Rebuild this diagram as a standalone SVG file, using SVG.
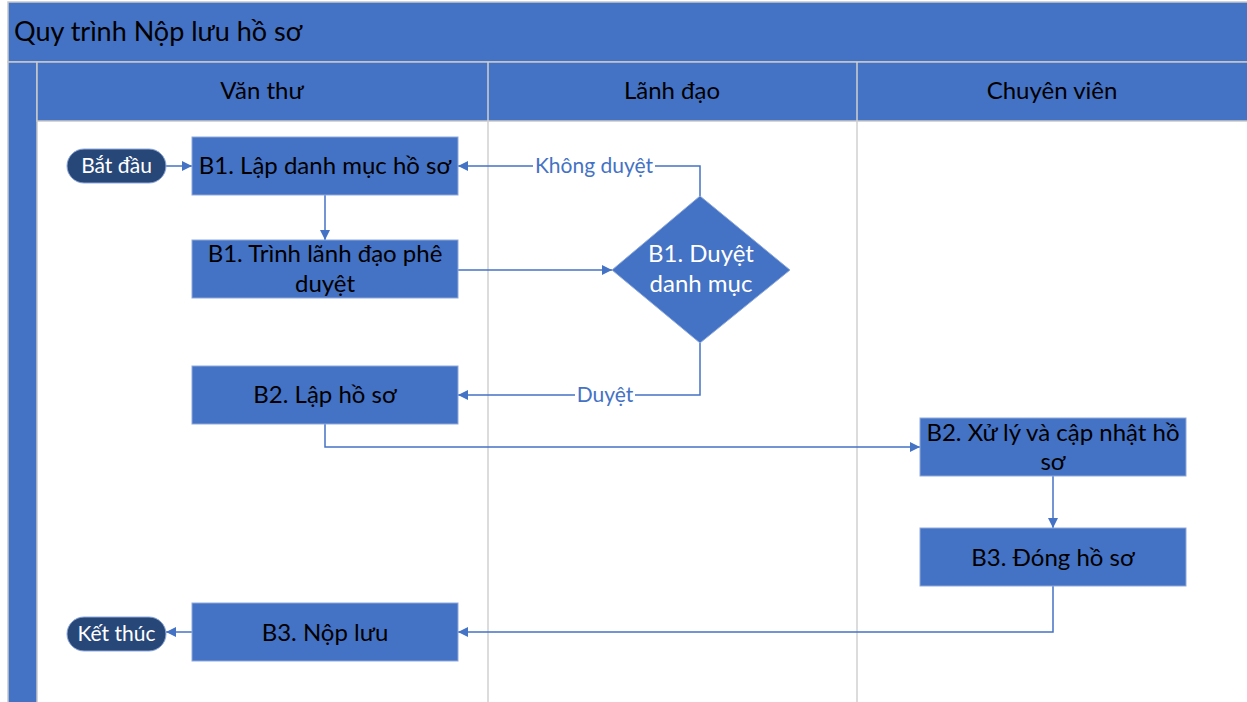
<svg xmlns="http://www.w3.org/2000/svg" width="1247" height="702" viewBox="0 0 1247 702">
<style>
.band{fill:#4472C4;stroke:#C9C9C9;stroke-width:1.5}
.lane{stroke:#D0D0D0;stroke-width:1.5}
.box{fill:#4472C4;stroke:#8EA9DB;stroke-width:1}
.term{fill:#284779;stroke:#8EA9DB;stroke-width:1}
.t{font-family:Lato,"Open Sans",sans-serif;text-anchor:middle}
.tb{fill:#000;font-size:24px}
.tw{fill:#fff;font-size:24px}
.ts{fill:#fff;font-size:21px}
.hd{fill:#000;font-size:24px}
.lbl{fill:#4472C4;font-size:21px;font-family:Lato,"Open Sans",sans-serif;text-anchor:middle}
.c{fill:none;stroke:#4472C4;stroke-width:1.5}
</style>
<defs>
<marker id="ah" viewBox="0 0 10 10" refX="10" refY="5" markerWidth="10" markerHeight="10" markerUnits="userSpaceOnUse" orient="auto">
<path d="M0,0 L10,5 L0,10 z" fill="#4472C4"/>
</marker>
</defs>
<rect x="0" y="0" width="1247" height="702" fill="#fff"/>
<g id="pool">
<rect class="band" x="8" y="2" width="1245" height="60"/>
<text x="14" y="41" font-family="Lato,'Open Sans',sans-serif" font-size="27" fill="#000">Quy trình Nộp lưu hồ sơ</text>
<rect class="band" x="8" y="62" width="29" height="645"/>
<rect class="band" x="37" y="62" width="1215" height="59"/>
<line class="lane" x1="488" y1="62" x2="488" y2="702"/>
<line class="lane" x1="857" y1="62" x2="857" y2="702"/>
<text class="t hd" x="262" y="99">Văn thư</text>
<text class="t hd" x="672" y="99">Lãnh đạo</text>
<text class="t hd" x="1052" y="99">Chuyên viên</text>
</g>
<g id="connectors">
<line class="c" x1="166" y1="166" x2="192" y2="166" marker-end="url(#ah)"/>
<line class="c" x1="325" y1="195" x2="325" y2="240" marker-end="url(#ah)"/>
<line class="c" x1="458" y1="270" x2="612" y2="270" marker-end="url(#ah)"/>
<polyline class="c" points="700,196 700,166 458,166" marker-end="url(#ah)"/>
<polyline class="c" points="700,343 700,395 458,395" marker-end="url(#ah)"/>
<polyline class="c" points="325,424 325,447 920,447" marker-end="url(#ah)"/>
<line class="c" x1="1053" y1="476" x2="1053" y2="528" marker-end="url(#ah)"/>
<polyline class="c" points="1053,586 1053,632 458,632" marker-end="url(#ah)"/>
<line class="c" x1="192" y1="632" x2="166" y2="632" marker-end="url(#ah)"/>
<rect x="533" y="153" width="122" height="26" fill="#fff"/>
<text class="lbl" x="594" y="173">Không duyệt</text>
<rect x="575" y="382" width="60" height="26" fill="#fff"/>
<text class="lbl" x="605" y="402">Duyệt</text>
</g>
<g id="start">
<rect class="term" x="67" y="149" width="99" height="34" rx="17"/>
<text class="t ts" x="116.5" y="173">Bắt đầu</text>
</g>
<g id="b1-lap">
<rect class="box" x="192" y="137" width="266" height="58"/>
<text class="t tb" x="325" y="174">B1. Lập danh mục hồ sơ</text>
</g>
<g id="b1-trinh">
<rect class="box" x="192" y="240" width="266" height="58"/>
<text class="t tb" x="325" y="262">B1. Trình lãnh đạo phê</text>
<text class="t tb" x="325" y="292">duyệt</text>
</g>
<g id="b1-duyet">
<polygon points="700,196 790,270 700,343 612,270" fill="#4472C4" stroke="#8EA9DB" stroke-width="1"/>
<text class="t tw" x="701" y="262">B1. Duyệt</text>
<text class="t tw" x="701" y="292">danh mục</text>
</g>
<g id="b2-lap">
<rect class="box" x="192" y="366" width="266" height="58"/>
<text class="t tb" x="325" y="403">B2. Lập hồ sơ</text>
</g>
<g id="b2-xuly">
<rect class="box" x="920" y="418" width="266" height="58"/>
<text class="t tb" x="1053" y="441">B2. Xử lý và cập nhật hồ</text>
<text class="t tb" x="1053" y="470">sơ</text>
</g>
<g id="b3-dong">
<rect class="box" x="920" y="528" width="266" height="58"/>
<text class="t tb" x="1053" y="566">B3. Đóng hồ sơ</text>
</g>
<g id="b3-nop">
<rect class="box" x="192" y="603" width="266" height="58"/>
<text class="t tb" x="325" y="641">B3. Nộp lưu</text>
</g>
<g id="end">
<rect class="term" x="67" y="617" width="99" height="34" rx="17"/>
<text class="t ts" x="116.5" y="641">Kết thúc</text>
</g>
</svg>
